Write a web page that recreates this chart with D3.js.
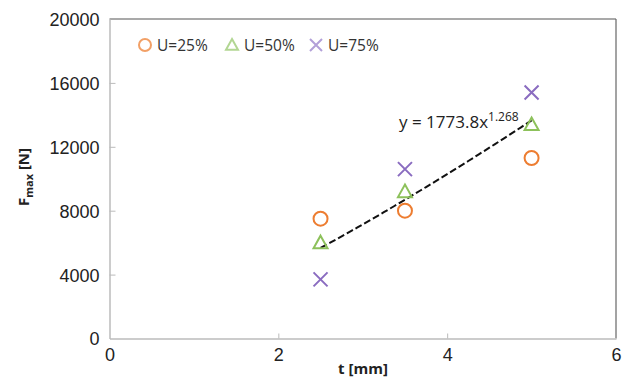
<!DOCTYPE html>
<html><head><meta charset="utf-8">
<script src="https://cdn.jsdelivr.net/npm/d3@7"></script>
<style>body{margin:0;background:#fff}svg{display:block;font-family:"Open Sans","Noto Sans",sans-serif}</style>
</head><body><svg id="c" width="630" height="378"></svg>
<script>
const xValues = [2.5, 3.5, 5];
const u25 = [7500, 8000, 11300];
const u50 = [6000, 9200, 13400];
const u75 = [3700, 10600, 15400];
const seriesNames = ["U=25%", "U=50%", "U=75%"];
const xTicks = [0, 2, 4, 6];
const yTicks = [0, 4000, 8000, 12000, 16000, 20000];
const trendCoef = [1773.8, 1.268];
const trendRange = [2.5, 5];

const svg = d3.select("#c");
const L = 109.5, R = 616, T = 19, B = 338.5;
const x = d3.scaleLinear().domain([0, 6]).range([L, R]);
const y = d3.scaleLinear().domain([0, 20000]).range([B, T]);

// frame
svg.append("line").attr("x1", L).attr("x2", R).attr("y1", T).attr("y2", T).attr("stroke", "#555").attr("stroke-width", 1.2);
svg.append("line").attr("x1", R).attr("x2", R).attr("y1", T).attr("y2", B).attr("stroke", "#666").attr("stroke-width", 1.2);

const fmt = d3.format("d");
const ax = svg.append("g").attr("transform", `translate(0,${B})`)
  .call(d3.axisBottom(x).tickValues(xTicks).tickFormat(fmt).tickSizeInner(-5).tickSizeOuter(0).tickPadding(10));
const ay = svg.append("g").attr("transform", `translate(${L},0)`)
  .call(d3.axisLeft(y).tickValues(yTicks).tickFormat(fmt).tickSizeInner(-6).tickSizeOuter(0).tickPadding(10));
[ax, ay].forEach(g => {
  g.select(".domain").attr("stroke", "#bbb").attr("stroke-width", 1.5);
  g.selectAll(".tick line").attr("stroke", "#bbb");
  g.selectAll("text").attr("fill", "#222").attr("font-size", 18).attr("font-family", "'Liberation Sans', Arial, sans-serif");
});
ax.selectAll(".tick").filter(d => d === 0 || d === 6).select("line").remove();
ay.selectAll(".tick").filter(d => d === 0 || d === 20000).select("line").remove();
ay.selectAll("text").attr("dy", "0.36em");

// titles
svg.append("text").attr("x", 363).attr("y", 374).attr("text-anchor", "middle")
  .attr("font-weight", "bold").attr("font-size", 15).attr("fill", "#222").text("t [mm]");
const yt = svg.append("text").attr("transform", "translate(29,177) rotate(-90)").attr("text-anchor", "middle")
  .attr("font-weight", "bold").attr("font-size", 15).attr("fill", "#222");
yt.append("tspan").text("F");
yt.append("tspan").attr("font-size", 11).attr("dy", 4).text("max");
yt.append("tspan").attr("dy", -4).text(" [N]");

const colors = ["#ED7D31", "#8DC15B", "#8A6CC0"];
const legendColors = ["#F2A066", "#B2D693", "#B2A0D8"];

function drawMarker(g, kind, cx, cy, col, s) {
  if (kind === 0) {
    g.append("circle").attr("cx", cx).attr("cy", cy).attr("r", s).attr("fill", "none").attr("stroke", col).attr("stroke-width", 2);
  } else if (kind === 1) {
    const h = s * 1.0;
    g.append("path").attr("d", `M${cx},${cy - h}L${cx + h},${cy + h * 0.8}L${cx - h},${cy + h * 0.8}Z`)
      .attr("fill", "none").attr("stroke", col).attr("stroke-width", 2);
  } else {
    g.append("path").attr("d", `M${cx - s},${cy - s}L${cx + s},${cy + s}M${cx - s},${cy + s}L${cx + s},${cy - s}`)
      .attr("stroke", col).attr("stroke-width", 2);
  }
}

// trendline
const tf = t => trendCoef[0] * Math.pow(t, trendCoef[1]);
const tx = d3.range(0, 41).map(i => trendRange[0] + (trendRange[1] - trendRange[0]) * i / 40);
svg.append("path").datum(tx).attr("fill", "none").attr("stroke", "#111").attr("stroke-width", 2)
  .attr("stroke-dasharray", "7,3")
  .attr("d", d3.line().x(d => x(d)).y(d => y(tf(d))));

const data = [u25, u50, u75];
const mg = svg.append("g");
data.forEach((vals, k) => {
  vals.forEach((v, i) => drawMarker(mg, k, x(xValues[i]), y(v), colors[k], 7));
});

// equation
const eq = svg.append("text").attr("x", 399).attr("y", 128).attr("font-size", 17).attr("fill", "#222");
eq.append("tspan").text("y = 1773.8x");
eq.append("tspan").attr("font-size", 12).attr("dy", -7).text("1.268");

// legend
const legX = [145, 232, 316];
seriesNames.forEach((n, k) => {
  drawMarker(svg, k, legX[k], 45, legendColors[k], 6);
  svg.append("text").attr("x", legX[k] + 12).attr("y", 50.5).attr("font-size", 15.5).attr("fill", "#333").text(n);
});
</script></body></html>
